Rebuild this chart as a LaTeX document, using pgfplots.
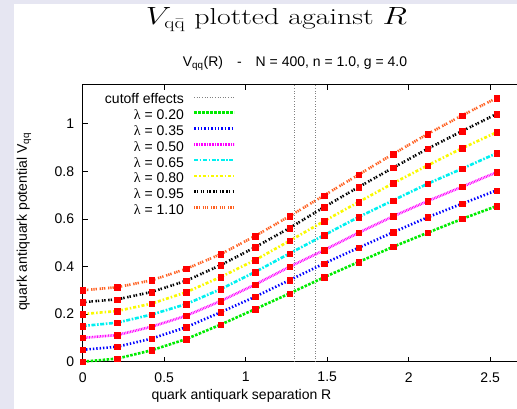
\documentclass[border=0pt]{standalone}
\usepackage{fontspec}
\usepackage{pgfplots}
\usepackage{pgfplotstable}
\usepackage{graphicx}
\pgfplotsset{compat=1.18}
\newfontfamily\hv{Liberation Sans}
\newfontfamily\sym{Liberation Serif}
\newcommand\sz{\hv\fontsize{14}{16}\selectfont}
\definecolor{lav}{RGB}{230,230,242}
\definecolor{cgreen}{RGB}{0,235,0}
\definecolor{cblue}{RGB}{0,0,255}
\definecolor{cmag}{RGB}{255,0,255}
\definecolor{ccyan}{RGB}{0,240,240}
\definecolor{cyel}{RGB}{250,250,0}
\definecolor{corange}{RGB}{255,96,32}
\definecolor{cred}{RGB}{255,0,0}

% R, then V for lambda = 0.20 ... 1.10
\pgfplotstableread{
R     l20   l35   l50   l65   l80   l95   l110
0.000 0.000 0.050 0.100 0.150 0.200 0.250 0.300
0.212 0.013 0.063 0.112 0.164 0.213 0.262 0.313
0.423 0.048 0.097 0.147 0.198 0.244 0.293 0.342
0.635 0.095 0.145 0.193 0.242 0.292 0.340 0.390
0.847 0.156 0.208 0.255 0.305 0.356 0.406 0.452
1.058 0.221 0.273 0.324 0.377 0.427 0.481 0.528
1.270 0.287 0.343 0.399 0.455 0.508 0.562 0.612
1.482 0.355 0.413 0.469 0.532 0.591 0.650 0.699
1.693 0.419 0.479 0.542 0.608 0.671 0.734 0.786
1.905 0.483 0.544 0.611 0.678 0.750 0.815 0.873
2.117 0.542 0.607 0.675 0.748 0.825 0.895 0.957
2.328 0.600 0.664 0.735 0.811 0.897 0.969 1.035
2.540 0.654 0.720 0.796 0.876 0.964 1.041 1.108
}\vdata

\begin{document}
\begin{tikzpicture}
\useasboundingbox (0,0) rectangle (517pt,409pt);
\fill[lav] (0,0) rectangle (517pt,409pt);
\fill[white] (14pt,0) rectangle (517pt,405pt);

\node[anchor=base] at (276.5pt,384pt) {\scalebox{1.3}[1]{\fontsize{23}{26}\selectfont $V_{\mathrm{q}\bar{\mathrm{q}}}$ plotted against $R$}};
\node[anchor=base] at (295pt,342.3pt) {\sz V\textsubscript{qq}(R)\quad-\quad N = 400, n = 1.0, g = 4.0};
\node[anchor=base] at (241.5pt,9pt) {\sz quark antiquark separation R};
\node[anchor=base,rotate=90] at (27pt,187pt) {\sz quark antiquark potential V\textsubscript{qq}};

\begin{axis}[scale only axis,width=440.1pt,height=276.8pt,
 at={(82.7pt,47.3pt)},anchor=south west,
 xmin=0,xmax=2.7,ymin=0,ymax=1.163,clip=false,
 axis line style={line width=0.9pt},
 tick style={black,line width=0.6pt},major tick length=5pt,tick align=inside,
 xtick={0,0.5,1,1.5,2,2.5},ytick={0,0.2,0.4,0.6,0.8,1},
 tick label style={font=\sz},/pgf/number format/assume math mode=true,
 yticklabel style={xshift=-4pt},xticklabel style={yshift=-6pt},
 legend cell align=right,legend plot pos=right,
 legend image code/.code={\draw[#1] (0pt,0.33em) -- (40pt,0.33em);},
 legend style={draw=none,fill=none,font=\sz,inner sep=0pt,row sep=0pt,
  at={(axis cs:0.945,1.137)},anchor=north east,
  nodes={inner sep=1pt,text height=10.5pt,text depth=3.3pt},
  /tikz/every odd column/.append style={column sep=8pt}},
 line width=2.6pt]
\addplot[gray,line width=0.6pt,dotted] coordinates {(1.30,0) (1.30,1.163)};
\addlegendentry{cutoff effects}
\addplot[gray,line width=0.6pt,dotted,forget plot] coordinates {(1.43,0) (1.43,1.163)};
\addplot[cgreen,dash pattern=on 2.6pt off 1.4pt] table[x=R,y=l20] {\vdata};
\addlegendentry{{\sym λ} = 0.20}
\addplot[cblue,dash pattern=on 1.4pt off 2pt] table[x=R,y=l35] {\vdata};
\addlegendentry{{\sym λ} = 0.35}
\addplot[cmag,dash pattern=on 0.8pt off 0.8pt] table[x=R,y=l50] {\vdata};
\addlegendentry{{\sym λ} = 0.50}
\addplot[ccyan,dash pattern=on 4pt off 1.6pt on 1.6pt off 1.6pt] table[x=R,y=l65] {\vdata};
\addlegendentry{{\sym λ} = 0.65}
\addplot[cyel,dash pattern=on 3pt off 2pt on 1.5pt off 2pt] table[x=R,y=l80] {\vdata};
\addlegendentry{{\sym λ} = 0.80}
\addplot[black,dash pattern=on 1.4pt off 1pt on 1.4pt off 2.6pt] table[x=R,y=l95] {\vdata};
\addlegendentry{{\sym λ} = 0.95}
\addplot[corange,dash pattern=on 1.3pt off 0.9pt on 1.3pt off 0.9pt on 1.3pt off 2.8pt] table[x=R,y=l110] {\vdata};
\addlegendentry{{\sym λ} = 1.10}
\pgfplotsinvokeforeach{l20,l35,l50,l65,l80,l95,l110}{
 \addplot[only marks,mark=square*,mark size=2.7pt,line width=0.2pt,cred,forget plot] table[x=R,y=#1] {\vdata};
}
\end{axis}
\end{tikzpicture}
\end{document}
